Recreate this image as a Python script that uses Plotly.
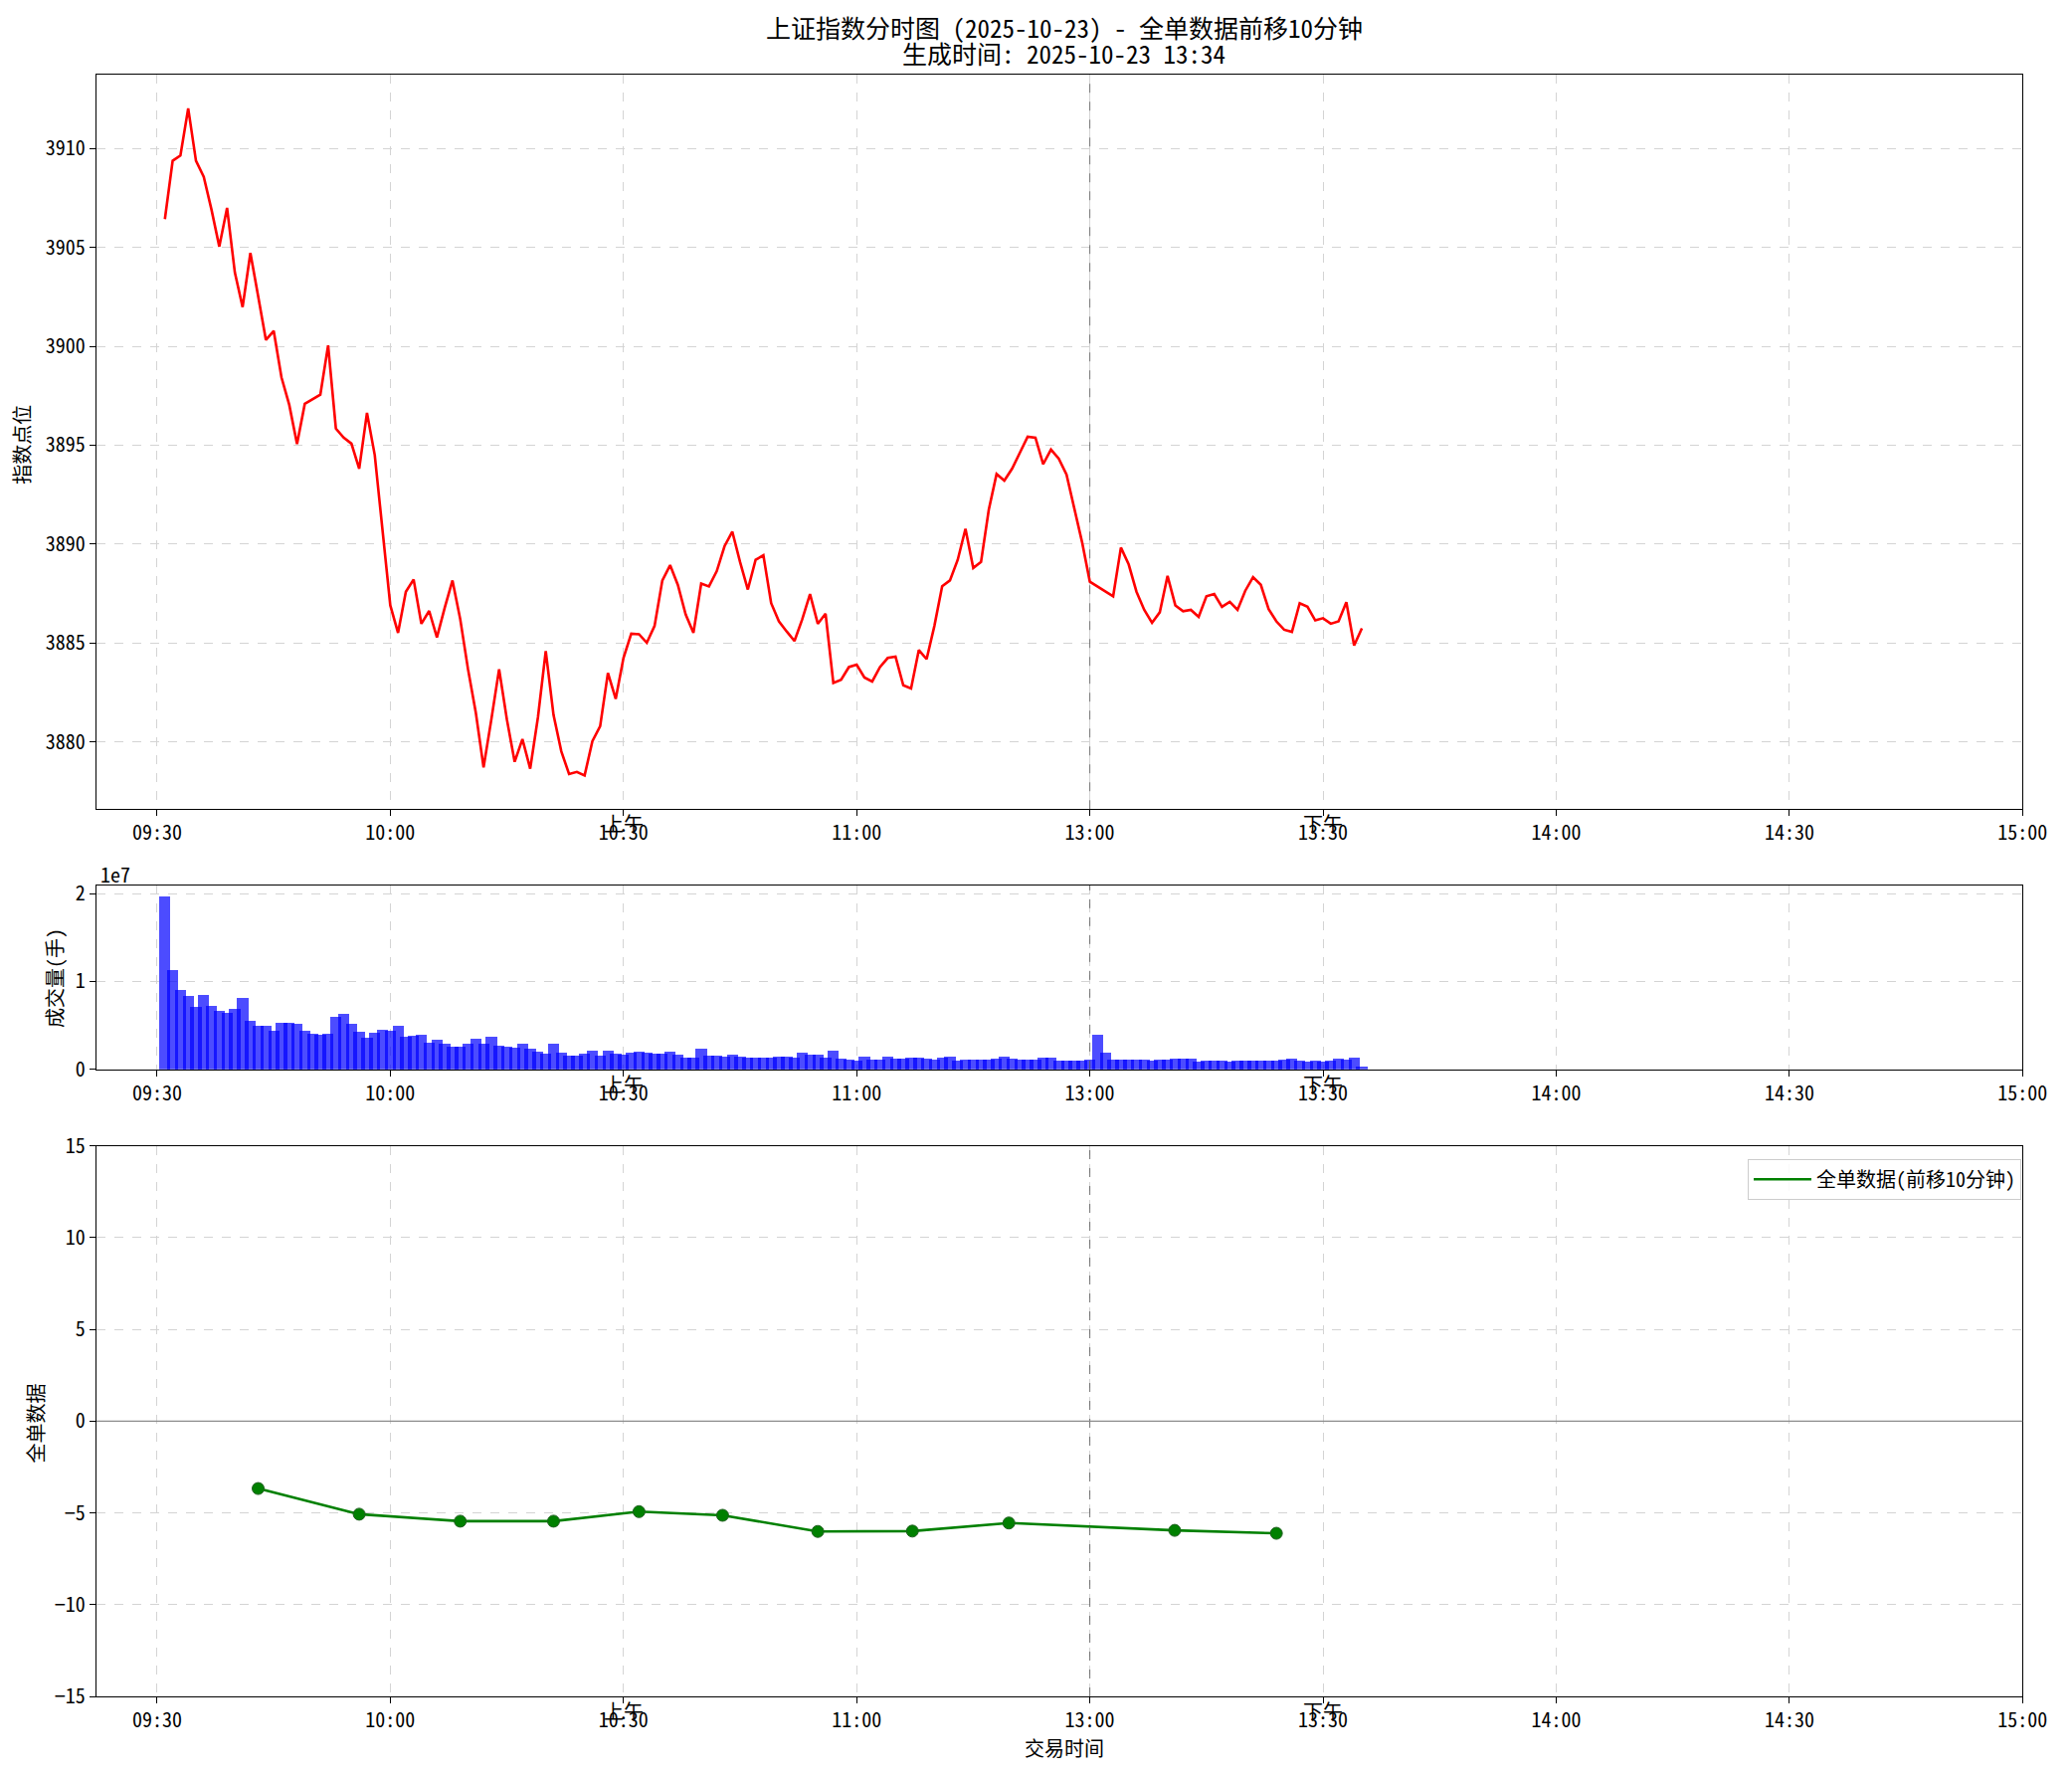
import plotly.graph_objects as go

W, H = 2083, 1783
FONT = "Noto Sans Mono CJK SC, Noto Sans CJK SC, sans-serif"

# ---------------- data ----------------
price = [3906.43, 3909.38, 3909.65, 3912.03, 3909.38, 3908.57, 3906.9, 3905.04, 3907.0, 3903.73,
         3901.98, 3904.72, 3902.53, 3900.32, 3900.78, 3898.43, 3897.04, 3895.06, 3897.09, 3897.32,
         3897.55, 3900.04, 3895.84, 3895.38, 3895.08, 3893.81, 3896.63, 3894.5, 3890.7, 3886.9,
         3885.51, 3887.59, 3888.21, 3885.97, 3886.62, 3885.28, 3886.78, 3888.16, 3886.2, 3883.67,
         3881.48, 3878.71, 3881.13, 3883.67, 3881.13, 3878.99, 3880.14, 3878.64, 3881.25, 3884.59,
         3881.36, 3879.52, 3878.37, 3878.48, 3878.3, 3880.03, 3880.79, 3883.48, 3882.17, 3884.24,
         3885.47, 3885.44, 3885.01, 3885.86, 3888.16, 3888.93, 3887.93, 3886.44, 3885.51, 3888.0,
         3887.86, 3888.63, 3889.89, 3890.63, 3889.09, 3887.7, 3889.2, 3889.43, 3887.01, 3886.09,
         3885.58, 3885.1, 3886.2, 3887.47, 3885.97, 3886.48, 3882.98, 3883.14, 3883.78, 3883.9,
         3883.25, 3883.05, 3883.78, 3884.24, 3884.31, 3882.86, 3882.7, 3884.64, 3884.18, 3885.86,
         3887.87, 3888.16, 3889.2, 3890.77, 3888.79, 3889.09, 3891.74, 3893.54, 3893.21, 3893.81,
         3894.62, 3895.43, 3895.38, 3894.04, 3894.78, 3894.32, 3893.51, 3891.74, 3890.1, 3888.1,
         3887.85, 3887.6, 3887.36, 3889.82, 3888.97, 3887.59, 3886.67, 3886.02, 3886.55, 3888.39,
         3886.9, 3886.6, 3886.67, 3886.32, 3887.36, 3887.47, 3886.83, 3887.08, 3886.67, 3887.64,
         3888.33, 3887.94, 3886.71, 3886.09, 3885.67, 3885.56, 3887.01, 3886.83, 3886.14, 3886.25,
         3885.97, 3886.09, 3887.06, 3884.87, 3885.74]

volume_1e7 = [1.97, 1.133, 0.90, 0.833, 0.705, 0.844, 0.72, 0.664, 0.638, 0.687,
              0.807, 0.552, 0.495, 0.495, 0.439, 0.529, 0.529, 0.518, 0.439, 0.405,
              0.394, 0.405, 0.597, 0.63, 0.518, 0.428, 0.36, 0.417, 0.45, 0.443,
              0.495, 0.371, 0.383, 0.394, 0.308, 0.338, 0.293, 0.259, 0.259, 0.293,
              0.349, 0.293, 0.371, 0.27, 0.259, 0.248, 0.293, 0.236, 0.203, 0.18,
              0.293, 0.19, 0.16, 0.16, 0.18, 0.21, 0.16, 0.21, 0.18, 0.17,
              0.19, 0.20, 0.19, 0.18, 0.18, 0.20, 0.17, 0.135, 0.135, 0.236,
              0.16, 0.16, 0.15, 0.17, 0.15, 0.135, 0.135, 0.135, 0.135, 0.146,
              0.146, 0.135, 0.19, 0.17, 0.17, 0.135, 0.21, 0.124, 0.113, 0.10,
              0.146, 0.113, 0.113, 0.146, 0.124, 0.124, 0.135, 0.135, 0.124, 0.113,
              0.135, 0.146, 0.10, 0.113, 0.113, 0.113, 0.113, 0.124, 0.146, 0.124,
              0.113, 0.113, 0.113, 0.135, 0.135, 0.10, 0.10, 0.10, 0.10, 0.113,
              0.394, 0.19, 0.113, 0.113, 0.113, 0.113, 0.113, 0.10, 0.113, 0.113,
              0.124, 0.124, 0.124, 0.09, 0.10, 0.10, 0.10, 0.09, 0.10, 0.10,
              0.10, 0.10, 0.10, 0.10, 0.113, 0.124, 0.10, 0.09, 0.10, 0.09,
              0.10, 0.124, 0.113, 0.135, 0.026]
volume = [v * 1e7 for v in volume_1e7]

flow_times = ["09:43:00", "09:56:00", "10:09:00", "10:21:00", "10:32:00", "10:42:45",
              "10:55:00", "11:07:10", "11:19:35", "13:10:55", "13:24:00"]
flow_values = [-3.67, -5.07, -5.45, -5.45, -4.93, -5.13, -6.01, -5.99, -5.55, -5.95, -6.11]

tick_labels = ["09:30", "10:00", "10:30", "11:00", "13:00", "13:30", "14:00", "14:30", "15:00"]

# minute timestamps of the price/volume series
minute_times = [f"{(570 + i) // 60:02d}:{(570 + i) % 60:02d}" for i in range(1, 121)] + \
               [f"{(780 + i) // 60:02d}:{(780 + i) % 60:02d}" for i in range(1, 36)]


def pos(t):
    parts = [float(p) for p in t.split(":")]
    mins = parts[0] * 60 + parts[1] + (parts[2] / 60 if len(parts) > 2 else 0)
    if mins >= 780:
        return 120 + mins - 780
    return mins - 570


xs = [pos(t) for t in minute_times]
fx = [pos(t) for t in flow_times]
tick_pos = [pos(t) if t != "13:00" else 120 for t in tick_labels]


# reference pixel -> paper fraction (compensating the capture scale)
def px2x(p):
    return min(p / 0.988, 2058) / W


def px2y(p):
    return 1 - ((p - 14.8) / 0.985) / H


# ---------------- figure ----------------
fig = go.Figure()
fig.add_trace(go.Scatter(x=xs, y=price, mode="lines", line=dict(color="red", width=2.6),
                         showlegend=False, xaxis="x", yaxis="y"))
fig.add_trace(go.Bar(x=xs, y=volume, width=1.44, marker=dict(color="rgba(0,0,255,0.7)", line=dict(width=0)),
                     showlegend=False, xaxis="x2", yaxis="y2"))
fig.add_trace(go.Scatter(x=fx, y=flow_values, mode="lines", name="全单数据(前移10分钟)",
                         line=dict(color="green", width=2.6), xaxis="x3", yaxis="y3"))
fig.add_trace(go.Scatter(x=fx, y=flow_values, mode="markers", showlegend=False,
                         marker=dict(color="green", size=12, line=dict(color="#1f5f1f", width=1)),
                         xaxis="x3", yaxis="y3"))

xdom = [px2x(97), px2x(2042)]
doms = [[px2y(813), px2y(74)], [px2y(1075), px2y(890)], [px2y(1706), px2y(1152)]]

grid = dict(showgrid=True, gridcolor="#d4d4d4", griddash="dash", gridwidth=1)
axline = dict(showline=True, linecolor="black", linewidth=1.3, mirror=True,
              ticks="outside", ticklen=6, tickcolor="black",
              tickfont=dict(family=FONT, size=20, color="black"), zeroline=False)

xcommon = dict(domain=xdom, range=[-7.8, 240], tickvals=tick_pos, ticktext=tick_labels,
               ticklabeloverflow="allow", **grid, **axline)

layout = dict(
    width=W, height=H, margin=dict(l=0, r=0, t=0, b=0),
    paper_bgcolor="white", plot_bgcolor="white",
    font=dict(family=FONT, color="black"),
    bargap=0, barmode="overlay",
    xaxis=dict(anchor="y", **xcommon),
    xaxis2=dict(anchor="y2", **xcommon),
    xaxis3=dict(anchor="y3", **xcommon),
    yaxis=dict(anchor="x", domain=doms[0], range=[3876.6, 3913.73],
               tickvals=[3880, 3885, 3890, 3895, 3900, 3905, 3910], **grid, **axline),
    yaxis2=dict(anchor="x2", domain=doms[1], range=[0, 2.09e7],
                tickvals=[0, 1e7, 2e7], ticktext=["0", "1", "2"], **grid, **axline),
    yaxis3=dict(anchor="x3", domain=doms[2], range=[-15, 15],
                tickvals=[-15, -10, -5, 0, 5, 10, 15], **grid, **axline),
    legend=dict(x=px2x(2032), y=px2y(1165), xanchor="right", yanchor="top", itemwidth=58,
                bgcolor="rgba(255,255,255,0.85)", bordercolor="#cccccc", borderwidth=1,
                font=dict(family=FONT, size=20)),
)
fig.update_layout(**layout)

# reference lines
shapes = []
for xa, ya in (("x", "y"), ("x2", "y2"), ("x3", "y3")):
    shapes.append(dict(type="line", xref=xa, yref=f"{ya} domain", x0=120, x1=120, y0=0, y1=1,
                       line=dict(color="rgba(90,90,90,0.85)", width=1, dash="dash"), layer="above"))
shapes.append(dict(type="line", xref="x3 domain", yref="y3", x0=0, x1=1, y0=0, y1=0,
                   line=dict(color="#8c8c8c", width=1.2)))
fig.update_layout(shapes=shapes)

ann = []
ann.append(dict(text="上证指数分时图 (2025-10-23) - 全单数据前移10分钟", x=px2x(1070), y=px2y(26),
                xref="paper", yref="paper", showarrow=False, xanchor="center", yanchor="middle",
                font=dict(family=FONT, size=25)))
ann.append(dict(text="生成时间: 2025-10-23 13:34", x=px2x(1070), y=px2y(52),
                xref="paper", yref="paper", showarrow=False, xanchor="center", yanchor="middle",
                font=dict(family=FONT, size=25)))
for text, xp, yp in (("指数点位", 22, 446), ("成交量(手)", 55, 983), ("全单数据", 35, 1431)):
    ann.append(dict(text=text, x=px2x(xp), y=px2y(yp), xref="paper", yref="paper", showarrow=False,
                    textangle=-90, xanchor="center", yanchor="middle", font=dict(family=FONT, size=20)))
ann.append(dict(text="交易时间", x=px2x(1070), y=px2y(1758), xref="paper", yref="paper", showarrow=False,
                xanchor="center", yanchor="middle", font=dict(family=FONT, size=20)))
ann.append(dict(text="1e7", x=px2x(99), y=px2y(878), xref="paper", yref="paper", showarrow=False,
                xanchor="left", yanchor="middle", font=dict(family=FONT, size=20)))
for xa, ya in (("x", "y"), ("x2", "y2"), ("x3", "y3")):
    for label, t in (("上午", "10:30"), ("下午", "13:30")):
        ann.append(dict(text=label, x=pos(t), y=0, xref=xa, yref=f"{ya} domain", showarrow=False,
                        xanchor="center", yanchor="top", yshift=2, font=dict(family=FONT, size=20)))
fig.update_layout(annotations=ann)

fig.write_html(
    "out.html",
    config={"displayModeBar": False},
    post_script="document.body.style.margin='0px';"
                "document.body.style.overflow='hidden';"
                "document.documentElement.style.overflow='hidden';",
)
